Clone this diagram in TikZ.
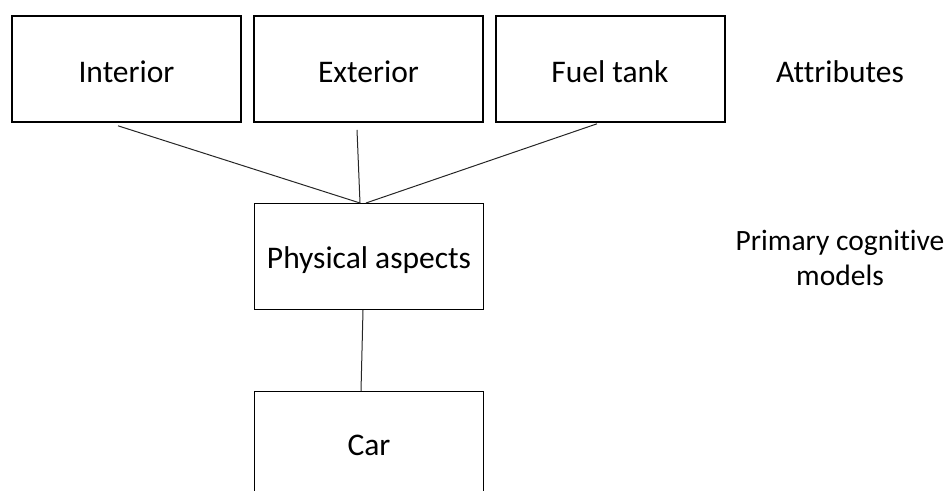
\documentclass[tikz,border=0pt]{standalone}
\usepackage{fontspec}
\setmainfont{Carlito}[Ligatures=NoCommon]
\begin{document}
\begin{tikzpicture}[x=1pt,y=-1pt,
  topbox/.style={draw=black, line width=2pt, minimum width=229pt, minimum height=106pt, inner sep=0pt, text depth=0pt, text height=26.4pt, font=\fontsize{31.5}{38}\selectfont},
  midbox/.style={draw=black, line width=1pt, minimum width=229pt, minimum height=106pt, inner sep=0pt, text depth=0pt, font=\fontsize{31.5}{38}\selectfont},
  conn/.style={draw=black!85, line width=1pt},
  lbl/.style={inner sep=0pt, anchor=base}]
\useasboundingbox (0,0) rectangle (947,490);
\clip (0,0) rectangle (947,490);
\node[topbox] (int) at (126.5,68.8) {Interior};
\node[topbox] (ext) at (368.5,68.8) {Exterior};
\node[topbox] (fuel) at (610,68.8) {Fuel tank};
\node[midbox, text height=23pt] (pa) at (369,256.5) {Physical aspects};
\node[midbox, text height=21pt] (car) at (369,444.5) {Car};
\node[lbl, font=\fontsize{31.5}{38}\selectfont] (attr) at (840,82) {Attributes};
\node[lbl, align=center, font=\fontsize{29.5}{35}\selectfont] (pcm) at (840,285) {Primary cognitive\\models};
\coordinate (i1) at ([xshift=-8.5pt,yshift=-3pt]int.south);
\coordinate (e1) at ([xshift=-11.5pt,yshift=-7pt]ext.south);
\coordinate (f1) at ([xshift=-13pt,yshift=-1pt]fuel.south);
\coordinate (p1) at ([xshift=-9pt]pa.north);
\coordinate (p2) at ([xshift=-3pt]pa.north);
\coordinate (p3) at ([xshift=-6pt]pa.south);
\coordinate (c1) at ([xshift=-8pt]car.north);
\draw[conn] (i1) -- (p1);
\draw[conn] (e1) -- (p1);
\draw[conn] (f1) -- (p2);
\draw[conn] (p3) -- (c1);
\end{tikzpicture}
\end{document}
